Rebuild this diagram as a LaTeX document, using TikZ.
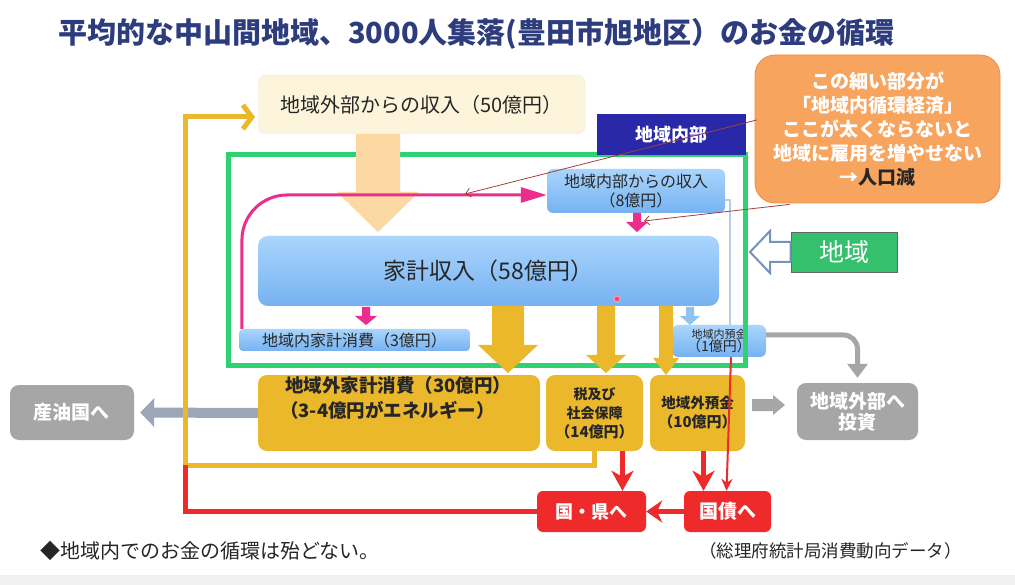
\documentclass[tikz,border=0pt]{standalone}
\usepackage{fontspec}
\setmainfont{Noto Sans CJK JP}
\usetikzlibrary{arrows.meta,calc}
\newcommand\fz[2]{\fontsize{#1}{#2}\selectfont}
\newcommand\vblock[7]{\fill[#7] (#1-#5/2,#2) -- (#1+#5/2,#2) -- (#1+#5/2,#3) -- (#1+#6/2,#3) -- (#1,#4) -- (#1-#6/2,#3) -- (#1-#5/2,#3) -- cycle;}
\definecolor{titleblue}{HTML}{2C3C7C}
\definecolor{greenc}{HTML}{2FD270}
\definecolor{naibu}{HTML}{2828A8}
\definecolor{orangec}{HTML}{F7A45E}
\definecolor{orangeb}{HTML}{EE8E3F}
\definecolor{peach}{HTML}{FCD8A2}
\definecolor{cream}{HTML}{FDF4DC}
\definecolor{blueT}{HTML}{AAD5FD}
\definecolor{blueB}{HTML}{76B2F1}
\definecolor{gold}{HTML}{EBB82C}
\definecolor{grayb}{HTML}{A6A6A6}
\definecolor{oilc}{HTML}{9BA7B6}
\definecolor{redc}{HTML}{EE2A2A}
\definecolor{pinkc}{HTML}{EC2D8B}
\definecolor{brownc}{HTML}{A0413C}
\definecolor{hollowc}{HTML}{7594BB}
\definecolor{lbline}{HTML}{B8CCE4}
\definecolor{lbarrow}{HTML}{8FC3F0}
\definecolor{darktext}{HTML}{262626}
\begin{document}
\begin{tikzpicture}[x=1pt,y=-1pt,
  box/.style={inner sep=0pt, align=center, text=darktext},
  bluebox/.style={box, rounded corners=6pt, top color=blueT, bottom color=blueB, draw=none},
  goldbox/.style={box, rounded corners=9pt, fill=gold},
  graybox/.style={box, rounded corners=9pt, fill=grayb, text=white},
  redbox/.style={box, rounded corners=6pt, fill=redc, text=white},
  yloop/.style={draw=gold, line width=5pt},
  rloop/.style={draw=redc, line width=5pt},
  rarrow/.style={draw=redc, line width=5pt, -{Stealth[length=20pt,width=22pt,inset=6pt]}},
  brownline/.style={draw=brownc, line width=0.8pt, -{Straight Barb[length=5pt,width=9pt]}},
]
\useasboundingbox (0,0) rectangle (1015,585);
\fill[white] (0,0) rectangle (1015,585);
\fill[black!6] (0,575) rectangle (1015,585);

% title
\node[anchor=west, text=titleblue, font=\fz{29}{34}\bfseries, inner sep=0pt] (title) at (58,34)
  {平均的な中山間地域、3000人集落(豊田市旭地区）のお金の循環};

% outer income box
\node[box, rounded corners=8pt, fill=cream, draw=black!8, minimum width=327pt, minimum height=59pt,
  font=\fz{20}{24}] (ext) at (421.5,104.5) {地域外部からの収入（50億円）};

% region inner box (drawn under)
\node[bluebox, minimum width=94pt, minimum height=32pt] (dep1) at (719,341)
  {{\fz{11}{13}地域内預金}\\[-1pt]{\fz{14}{16}（1億円）}};

% green frame
\draw[greenc, line width=5pt] (228,155) rectangle (745,366);

% big peach arrow
\vblock{378}{134}{192}{232}{44}{82}{peach}

% 地域内部 label
\node[box, fill=naibu, text=white, minimum width=149pt, minimum height=41pt, font=\fz{18}{22}\bfseries]
  (naibu) at (671.5,134.5) {地域内部};

% callout
\node[box, rounded corners=20pt, fill=orangec, draw=orangeb, line width=0.8pt, text=white,
  minimum width=245pt, minimum height=148pt, font=\fz{19}{24}\bfseries] (callout) at (877.5,129)
  {この細い部分が\\「地域内循環経済」\\ここが太くならないと\\地域に雇用を増やせない\\→{\color{darktext}人口減}};

% income from inside
\node[bluebox, minimum width=178pt, minimum height=44pt, font=\fz{16}{19}] (inc8) at (636,191)
  {地域内部からの収入\\（8億円）};

% household income
\node[bluebox, rounded corners=10pt, minimum width=461pt, minimum height=70pt, font=\fz{23}{27}]
  (hh) at (488.5,271) {家計収入（58億円）};

% in-region consumption
\node[bluebox, rounded corners=4pt, minimum width=231pt, minimum height=22pt, font=\fz{16}{19}]
  (hhin) at (354.5,340) {地域内家計消費（3億円）};

% thin light-blue line inc8 -> dep1
\draw[lbline, line width=1.5pt] ($(inc8.south east)+(0,-13)$) -| ($(dep1.north)+(11,0)$);

% pink curve
\coordinate (pk0) at ($(hhin.north west)+(3,0)$);
\coordinate (pk1) at (242,195);
\draw[pinkc, line width=3pt, rounded corners=45pt, -{Triangle[length=26pt,width=15pt]}]
  (pk0) -- (pk1) -- ($(inc8.west)+(0,4)$);

% pink small arrows
\vblock{637}{213}{222}{232}{8}{22}{pinkc}
\vblock{366}{307}{316}{325}{8}{22}{pinkc}
% light blue small arrow
\vblock{690}{307}{316}{325}{8}{20}{lbarrow}

% red dot (pointer)
\draw[draw=pinkc!50, fill=redc!85, line width=1.2pt] (617,299) circle (3pt);

% gold boxes
\node[goldbox, minimum width=282pt, minimum height=76pt] (cons) at (399,413) {};
\node[box, anchor=north west, align=left, font=\fz{18.5}{25}\bfseries] (constext) at (280,376)
  {\hspace{5pt}地域外家計消費（30億円）\\（3-4億円がエネルギー）};
\node[goldbox, minimum width=97pt, minimum height=76pt, font=\fz{14}{19}\bfseries] (tax) at (594.5,413)
  {税及び\\社会保障\\{\fz{15}{19}（14億円）}};
\node[goldbox, minimum width=95pt, minimum height=76pt, font=\fz{14.5}{19}\bfseries] (dep10) at (697.5,413)
  {地域外預金\\{\fz{15}{19}（10億円）}};

% gold arrows from household income
\vblock{508}{306}{345}{373}{32}{60}{gold}
\vblock{606}{306}{355}{373}{18}{40}{gold}
\vblock{666}{306}{358}{375}{14}{26}{gold}

% gray boxes
\node[graybox, minimum width=121pt, minimum height=57pt, font=\fz{19}{21}\bfseries] (inv) at (857.5,411.5)
  {地域外部へ\\投資};
\node[graybox, minimum width=124pt, minimum height=55pt, font=\fz{19}{22}\bfseries] (oil) at (72,412.5)
  {産油国へ};

% red boxes
\node[redbox, minimum width=109pt, minimum height=41pt, font=\fz{18}{22}\bfseries] (ken) at (591.5,511.5) {国・県へ};
\node[redbox, minimum width=87pt, minimum height=41pt, font=\fz{19}{22}\bfseries] (bond) at (727.5,511.5) {国債へ};

% 地域 label and hollow arrow
\node[box, fill=greenc!90!black!95, draw=black!60, line width=0.8pt, text=white, minimum width=106pt,
  minimum height=40pt, font=\fz{25}{28}] (chiiki) at (844,252) {地域};
\draw[hollowc, fill=white, line width=2pt, line join=miter]
  (750,252) -- (770,231) -- (770,242) -- (chiiki.west |- 0,242) -- (chiiki.west |- 0,262)
  -- (770,262) -- (770,273) -- cycle;

% gray arrows
\draw[grayb, line width=5pt, rounded corners=14pt, -{Triangle[length=14pt,width=20pt]}, shorten >=5pt]
  ($(dep1.east)+(0,-6)$) -| (inv.north);
\fill[grayb] (752,399) -- (773,399) -- (773,395) -- (785,405) -- (773,415) -- (773,411) -- (752,411) -- cycle;
\draw[oilc, line width=10pt, -{Triangle[length=14pt,width=28pt]}, shorten >=6pt] (cons.west) -- (oil.east);

% loops
\coordinate (lc) at (185,465);
\coordinate (extin) at (255,117);
\draw[yloop, -{Straight Barb[length=9pt,width=24pt,line width=5pt]}]
  (tax.south) -- (tax.south |- lc) -- (lc) -- (lc |- extin) -- (extin);
\draw[rloop] (ken.west) -| (lc);

% red arrows
\coordinate (t1) at ($(tax.south)+(28,0)$);
\coordinate (t2) at ($(dep10.south)+(6,0)$);
\draw[rarrow] (t1) -- (t1 |- ken.north);
\draw[rarrow] (t2) -- (t2 |- bond.north);
\draw[redc, line width=2pt, -{Stealth[length=12pt,width=11pt]}] ($(dep1.south)+(12,0)$) -- ($(bond.north)+(-1,0)$);
\draw[redc, line width=5pt, -{Stealth[length=16pt,width=22pt,inset=5pt]}] (bond.west) -- (ken.east);

% brown pointer lines
\coordinate (b1) at ($(callout.west)+(2,-9)$);
\coordinate (b2) at (465,194);
\coordinate (b3) at ($(callout.south west)+(35,1)$);
\coordinate (b4) at (644,221);
\draw[brownline] (b1) -- (b2);
\draw[brownline] (b3) -- (b4);

% bottom texts
\node[anchor=west, inner sep=0pt, text=darktext, font=\fz{20}{24}] (note) at (40,551) {◆地域内でのお金の循環は殆どない。};
\node[anchor=east, inner sep=0pt, text=darktext, font=\fz{17.5}{21}] (src) at (962,551) {（総理府統計局消費動向データ）};
\end{tikzpicture}
\end{document}
